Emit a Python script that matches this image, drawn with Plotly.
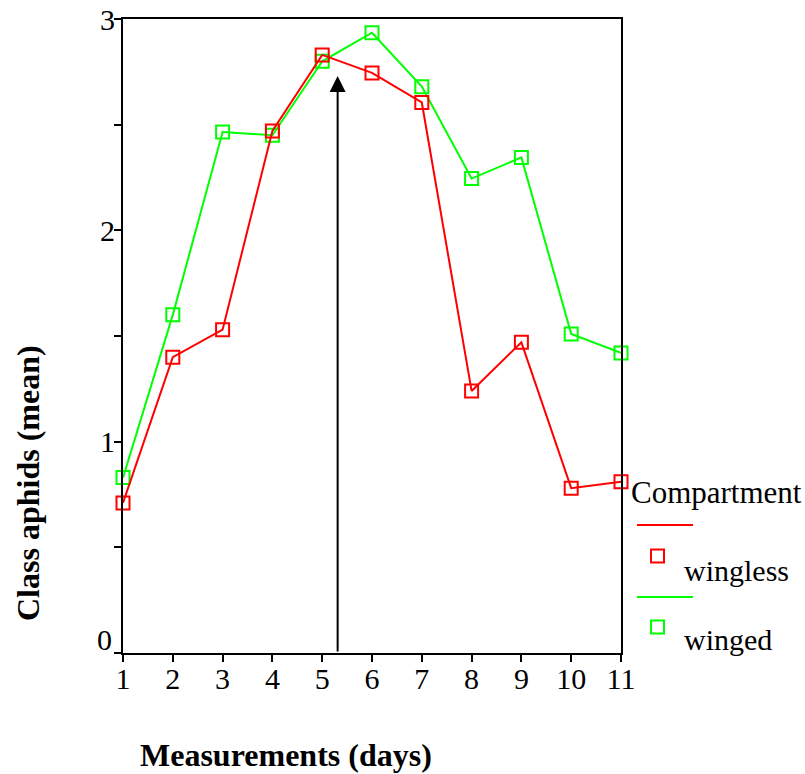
import plotly.graph_objects as go

days = [1, 2, 3, 4, 5, 6, 7, 8, 9, 10, 11]
wingless = [0.71, 1.40, 1.53, 2.47, 2.83, 2.745, 2.605, 1.24, 1.47, 0.78, 0.81]
winged = [0.83, 1.60, 2.465, 2.45, 2.80, 2.935, 2.68, 2.245, 2.345, 1.51, 1.42]
x_ticks = [1, 2, 3, 4, 5, 6, 7, 8, 9, 10, 11]
y_ticks = [0, 0.5, 1, 1.5, 2, 2.5, 3]
y_ticktext = ["", "", "1", "", "2", "", "3"]
arrow_x = 5.31
arrow_top = 2.73

RED = "#ff0000"
GREEN = "#00ff00"
FONT = "Liberation Serif, Times New Roman, serif"

# plot area in pixels
L, R, T, B = 123, 621, 19, 653
W, H = 805, 774


def px(x):
    return (x - L) / (R - L)


def py(y):
    return (B - y) / (B - T)


fig = go.Figure()
fig.add_trace(go.Scatter(
    x=days, y=winged, mode="lines+markers", name="winged",
    line=dict(color=GREEN, width=2),
    marker=dict(symbol="square-open", size=13, color=GREEN, line=dict(width=2, color=GREEN)),
    cliponaxis=False, showlegend=False))
fig.add_trace(go.Scatter(
    x=days, y=wingless, mode="lines+markers", name="wingless",
    line=dict(color=RED, width=2),
    marker=dict(symbol="square-open", size=13, color=RED, line=dict(width=2, color=RED)),
    cliponaxis=False, showlegend=False))

annotations = [
    dict(x=arrow_x, y=arrow_top, ax=arrow_x, ay=0, xref="x", yref="y", axref="x", ayref="y",
         showarrow=True, arrowhead=2, arrowsize=1.6, arrowwidth=2, arrowcolor="black",
         standoff=0, startstandoff=0, text=""),
    dict(x=0, y=0, xref="paper", yref="y", text="0", showarrow=False, xanchor="right",
         yanchor="middle", xshift=-9, yshift=14, font=dict(family=FONT, size=30, color="black")),
    dict(x=px(28), y=py(483), xref="paper", yref="paper", text="<b>Class aphids (mean)</b>",
         textangle=-90, showarrow=False, xanchor="center", yanchor="middle",
         font=dict(family=FONT, size=32, color="black")),
    dict(x=px(286), y=py(755), xref="paper", yref="paper", text="<b>Measurements (days)</b>",
         showarrow=False, xanchor="center", yanchor="middle",
         font=dict(family=FONT, size=32, color="black")),
    dict(x=px(629), y=py(492), xref="paper", yref="paper", text="Compartment",
         showarrow=False, xanchor="left", yanchor="middle",
         font=dict(family=FONT, size=31, color="black")),
    dict(x=px(682), y=py(570), xref="paper", yref="paper", text="wingless",
         showarrow=False, xanchor="left", yanchor="middle",
         font=dict(family=FONT, size=30, color="black")),
    dict(x=px(682), y=py(639), xref="paper", yref="paper", text="winged",
         showarrow=False, xanchor="left", yanchor="middle",
         font=dict(family=FONT, size=30, color="black")),
]

shapes = []
for col, ly, sy in [(RED, 525, 556), (GREEN, 597, 627)]:
    shapes.append(dict(type="line", xref="paper", yref="paper", x0=px(637), x1=px(693),
                       y0=py(ly), y1=py(ly), line=dict(color=col, width=2)))
    shapes.append(dict(type="rect", xref="paper", yref="paper", x0=px(651), x1=px(664),
                       y0=py(sy + 6.5), y1=py(sy - 6.5), line=dict(color=col, width=2)))

fig.update_layout(
    width=W, height=H,
    margin=dict(l=L, r=W - R, t=T, b=H - B, pad=0, autoexpand=False),
    plot_bgcolor="white", paper_bgcolor="white",
    annotations=annotations, shapes=shapes,
    showlegend=False,
    xaxis=dict(range=[1, 11], tickmode="array", tickvals=x_ticks, automargin=False,
               ticks="outside", ticklen=7, tickwidth=2, tickcolor="black",
               ticklabelstandoff=-9,
               showline=True, linecolor="black", linewidth=2, mirror=True,
               showgrid=False, zeroline=False,
               tickfont=dict(family=FONT, size=30, color="black")),
    yaxis=dict(range=[0, 3], tickmode="array", tickvals=y_ticks, ticktext=y_ticktext,
               automargin=False, ticklabelstandoff=-7,
               ticks="outside", ticklen=7, tickwidth=2, tickcolor="black",
               showline=True, linecolor="black", linewidth=2, mirror=True,
               showgrid=False, zeroline=False,
               tickfont=dict(family=FONT, size=30, color="black")),
)

fig.write_html("out.html")
